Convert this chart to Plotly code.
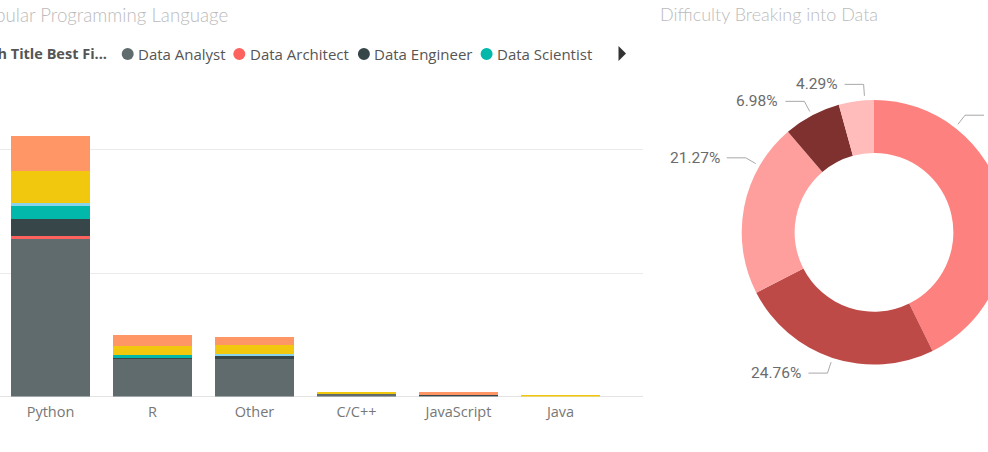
import math
import plotly.graph_objects as go

# ---------------- data ----------------
languages = ["Python", "R", "Other", "C/C++", "JavaScript", "Java"]
data_analyst = [255, 61, 61, 5, 2, 0]
data_architect = [5, 0, 0, 0, 0, 0]
data_engineer = [28, 1, 5, 0, 1, 0]
data_scientist = [21, 5, 0, 0, 0, 0]
database_developer = [4, 0, 3, 0, 0, 0]
other_role = [52, 15, 14, 2, 1, 1]
student_role = [57, 18, 13, 0, 3, 0]

role_names = ["Data Analyst", "Data Architect", "Data Engineer", "Data Scientist",
              "Database Developer", "Other", "Student/Looking/None"]
role_values = [data_analyst, data_architect, data_engineer, data_scientist,
               database_developer, other_role, student_role]

difficulty = ["Neither easy nor difficult", "Difficult", "Easy", "Very Difficult", "Very Easy"]
difficulty_counts = [269, 156, 134, 44, 27]

bar_title = "Most Popular Programming Language"
pie_title = "Difficulty Breaking into Data"
legend_title = "Q1 - Which Title Best Fi..."
legend_shown = ["Data Analyst", "Data Architect", "Data Engineer", "Data Scientist"]

# ---------------- styles / layout ----------------
role_colors = ["#5F6B6D", "#FD625E", "#374649", "#01B8AA", "#8AD4EB", "#F2C80F", "#FE9666"]
pie_colors = ["#FD817E", "#BE4A47", "#FE9F9D", "#7F312F", "#FFBCBB"]
label_angle_nudge = [-39, 0, 19, 0, 3.7]   # label placement offsets (deg)

W, H = 1060, 452
def px(x):
    return x / W
def py(y):
    return 1 - y / H

# bar plot area in pixels
bar_left, bar_right, bar_top, bar_base = 0, 643, 100, 396.5
cat_step, first_center = 102.0, 50.5
px_per_unit = 123.5 / 200

# donut geometry in pixels
cx, cy, R = 874.0, 232.3, 132.3

fig = go.Figure()

for name, vals, col in zip(role_names, role_values, role_colors):
    fig.add_trace(go.Bar(
        x=languages, y=vals, name=name, marker=dict(color=col, line=dict(width=0)),
        showlegend=False, xaxis="x", yaxis="y"))

fig.add_trace(go.Pie(
    labels=difficulty, values=difficulty_counts, sort=False, direction="clockwise",
    rotation=0, hole=0.6, marker=dict(colors=pie_colors, line=dict(width=0)),
    textinfo="none", showlegend=False,
    domain=dict(x=[px(cx - R), px(cx + R)], y=[py(cy + R), py(cy - R)])))

shapes = []
annotations = []

# titles
annotations.append(dict(text=bar_title, x=px(229), y=py(15), xref="paper", yref="paper",
                        xanchor="right", yanchor="middle", showarrow=False, borderpad=0,
                        font=dict(family="Lato", size=18.7, weight=300, color="#BBBBBB")))
annotations.append(dict(text=pie_title, x=px(658.5), y=py(14), xref="paper", yref="paper",
                        xanchor="left", yanchor="middle", showarrow=False, borderpad=0,
                        font=dict(family="Lato", size=18, weight=300, color="#BBBBBB")))

# legend (manual, Power BI style)
annotations.append(dict(text="<b>" + legend_title + "</b>", x=px(107.5), y=py(54),
                        xref="paper", yref="paper", xanchor="right", yanchor="middle",
                        showarrow=False, borderpad=0,
                        font=dict(family="Open Sans", size=14.5, color="#555555")))
legend_marker_x = [127.7, 239.3, 363.9, 486.6]
legend_text_x = [136.5, 248.5, 373.0, 496.0]
for name, mx, tx in zip(legend_shown, legend_marker_x, legend_text_x):
    col = role_colors[role_names.index(name)]
    shapes.append(dict(type="circle", xref="paper", yref="paper",
                       x0=px(mx - 6), x1=px(mx + 6), y0=py(54 + 6), y1=py(54 - 6),
                       fillcolor=col, line=dict(width=0)))
    annotations.append(dict(text=name, x=px(tx), y=py(54), xref="paper", yref="paper",
                            xanchor="left", yanchor="middle", showarrow=False, borderpad=0,
                            font=dict(family="Open Sans", size=15, color="#555555")))
shapes.append(dict(type="path", xref="paper", yref="paper",
                   path="M {} {} L {} {} L {} {} Z".format(px(618.5), py(46), px(626), py(53.5),
                                                        px(618.5), py(61)),
                   fillcolor="#333333", line=dict(width=0)))

# donut labels with leader lines computed from the data
total = sum(difficulty_counts)
cum = 0
for v, nudge in zip(difficulty_counts, label_angle_nudge):
    mid = (cum + v / 2) / total * 360
    cum += v
    th = math.radians(mid + nudge)
    def pol(r):
        return cx + r * math.sin(th), cy - r * math.cos(th)
    x1, y1 = pol(R + 4.5)
    x2, y2 = pol(R + 16)
    side = 1 if math.sin(th) > 0 else -1
    x3 = x2 + side * 19
    shapes.append(dict(type="path", xref="paper", yref="paper",
                       path="M {} {} L {} {} L {} {}".format(px(x1), py(y1), px(x2), py(y2),
                                                           px(x3), py(y2)),
                       line=dict(color="#A8A8A8", width=1)))
    annotations.append(dict(text="{:.2f}%".format(v / total * 100),
                            x=px(x3 + side * 6), y=py(y2), xref="paper", yref="paper",
                            xanchor="left" if side > 0 else "right", yanchor="middle",
                            showarrow=False, borderpad=0,
                            font=dict(family="Roboto", size=15.5, color="#6B6B6B")))

fig.update_layout(
    width=W, height=H,
    margin=dict(l=0, r=0, t=0, b=0, pad=0, autoexpand=False),
    paper_bgcolor="white", plot_bgcolor="white",
    barmode="stack", bargap=1 - 79 / cat_step,
    xaxis=dict(domain=[px(bar_left), px(bar_right)], type="category",
               range=[(bar_left - first_center) / cat_step, (bar_right - first_center) / cat_step],
               showgrid=False, showline=False, zeroline=False, ticks="",
               ticklabelstandoff=5,
               tickfont=dict(family="Open Sans", size=14.5, color="#777777"),
               fixedrange=True),
    yaxis=dict(domain=[py(bar_base), py(bar_top)],
               range=[0, (bar_base - bar_top) / px_per_unit], dtick=200,
               showgrid=True, gridcolor="#EAEAEA", gridwidth=1,
               zeroline=True, zerolinecolor="#E3E3E3", zerolinewidth=1,
               showticklabels=False, showline=False, fixedrange=True),
    shapes=shapes, annotations=annotations,
    hovermode=False,
)

fig.write_html("out.html", config={"displayModeBar": False},
               post_script="document.documentElement.style.overflow='hidden';"
                           "document.body.style.overflow='hidden';"
                           "document.body.style.margin='0';")
